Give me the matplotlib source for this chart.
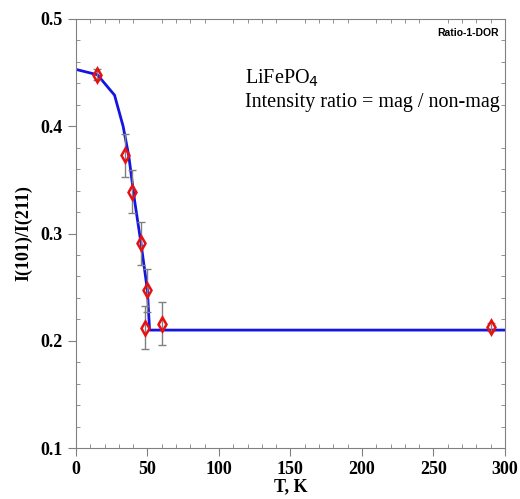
import matplotlib.pyplot as plt
from matplotlib.ticker import MultipleLocator

# Measured intensity ratio (red diamonds) with error bars
temp = [15, 34, 39.5, 45.5, 50, 48.5, 60, 290]
ratio = [0.448, 0.373, 0.339, 0.291, 0.247, 0.212, 0.216, 0.213]
err = [0.005, 0.02, 0.02, 0.02, 0.02, 0.02, 0.02, 0.004]

# Fit curve (blue line)
fit_t = [0, 15, 27, 33, 37, 41, 45.5, 50, 51.5, 300]
fit_r = [0.453, 0.448, 0.429, 0.400, 0.372, 0.331, 0.291, 0.247, 0.210, 0.210]

fig = plt.figure(figsize=(5.2, 4.99), dpi=100)
ax = fig.add_axes([0.146, 0.102, 0.825, 0.860])

ax.plot(fit_t, fit_r, color="#1515e0", lw=2, zorder=2)
ax.errorbar(temp, ratio, yerr=err, fmt="none", ecolor="#808080", elinewidth=1,
            capsize=3, capthick=1, zorder=3)
ax.plot(temp, ratio, "d", ms=7, mfc="none", mec="#e81010", mew=1.8, zorder=4)

ax.set_xlim(0, 300)
ax.set_ylim(0.1, 0.5)
ax.xaxis.set_major_locator(MultipleLocator(50))
ax.xaxis.set_minor_locator(MultipleLocator(10))
ax.yaxis.set_major_locator(MultipleLocator(0.1))
ax.yaxis.set_minor_locator(MultipleLocator(0.02))
ax.yaxis.set_major_formatter(plt.FuncFormatter(lambda v, p: f"{v:.1f}"))

for s in ax.spines.values():
    s.set_color("#808080")
ax.tick_params(which="major", direction="out", length=6, color="#808080",
               top=False, right=False)
ax.tick_params(which="minor", direction="in", length=3, color="#808080",
               top=True, right=True)
for lab in ax.get_xticklabels() + ax.get_yticklabels():
    lab.set_fontfamily("Liberation Serif")
    lab.set_fontweight("bold")
    lab.set_fontsize(13)

ax.set_xlabel("T, K", family="Liberation Serif", weight="bold", fontsize=13,
              labelpad=0)
ax.set_ylabel("I(101)/I(211)", family="Liberation Serif", weight="bold",
              fontsize=13, labelpad=6)

ax.text(0.395, 0.85, "LiFePO$_4$", transform=ax.transAxes,
        family="Liberation Serif", fontsize=14.5)
ax.text(0.395, 0.795, "Intensity ratio = mag / non-mag", transform=ax.transAxes,
        family="Liberation Serif", fontsize=14.5)
ax.text(0.985, 0.96, "Ratio-1-DOR", transform=ax.transAxes, ha="right",
        family="Liberation Sans", weight="bold", fontsize=7.5)

fig.savefig("out.png", dpi=100)
